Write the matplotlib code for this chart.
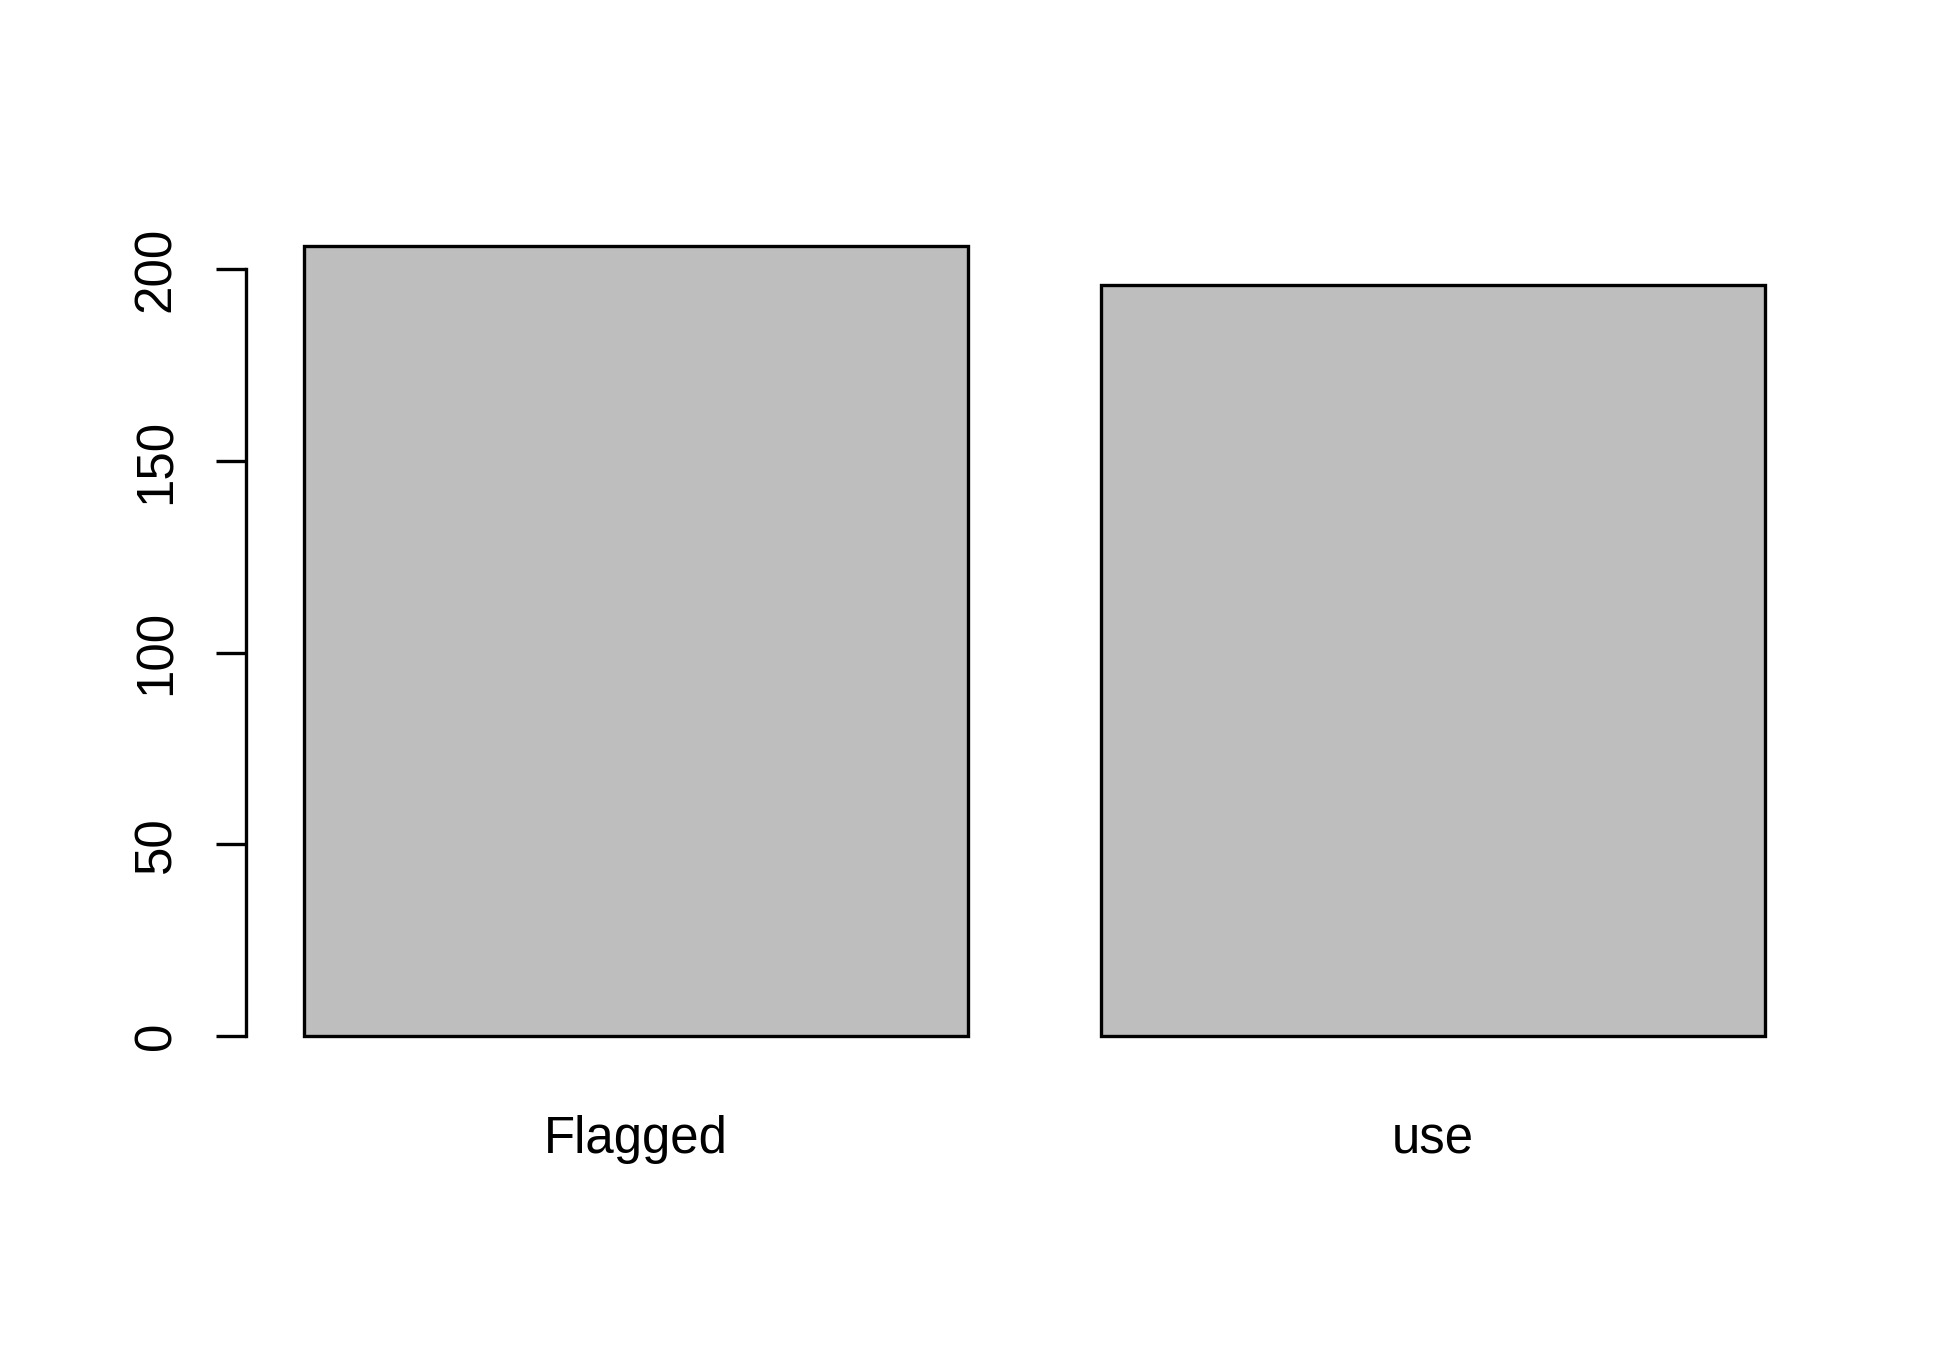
import matplotlib.pyplot as plt

plt.rcParams['font.family'] = ['Liberation Sans', 'DejaVu Sans']

categories = ['Flagged', 'use']
counts = [206, 196]
yticks = [0, 50, 100, 150, 200]

fig = plt.figure(figsize=(13, 9), dpi=150)
ax = fig.add_axes([0.1259, 0.2092, 0.9349 - 0.1259, 0.8409 - 0.2092])

# barplot-style positions: width 1, space 0.2
pos = [0.2 + 0.5 + i * 1.2 for i in range(len(categories))]
ax.bar(pos, counts, width=1.0, color='#BEBEBE', edgecolor='black', linewidth=1.6)

ax.set_xlim(0.112, 2.488)
ax.set_ylim(-8.24, 214.24)

for s in ['top', 'right', 'bottom']:
    ax.spines[s].set_visible(False)
ax.spines['left'].set_bounds(0, 200)
ax.spines['left'].set_linewidth(1.6)

ax.set_yticks(yticks)
ax.set_yticklabels([str(t) for t in yticks], rotation=90, va='center', fontsize=24.5)
ax.tick_params(axis='y', length=14.4, width=1.6, pad=16.5)

ax.set_xticks(pos)
ax.set_xticklabels(categories, fontsize=24.5)
ax.tick_params(axis='x', length=0, pad=23)

fig.savefig('out.png', dpi=150, facecolor='white')
